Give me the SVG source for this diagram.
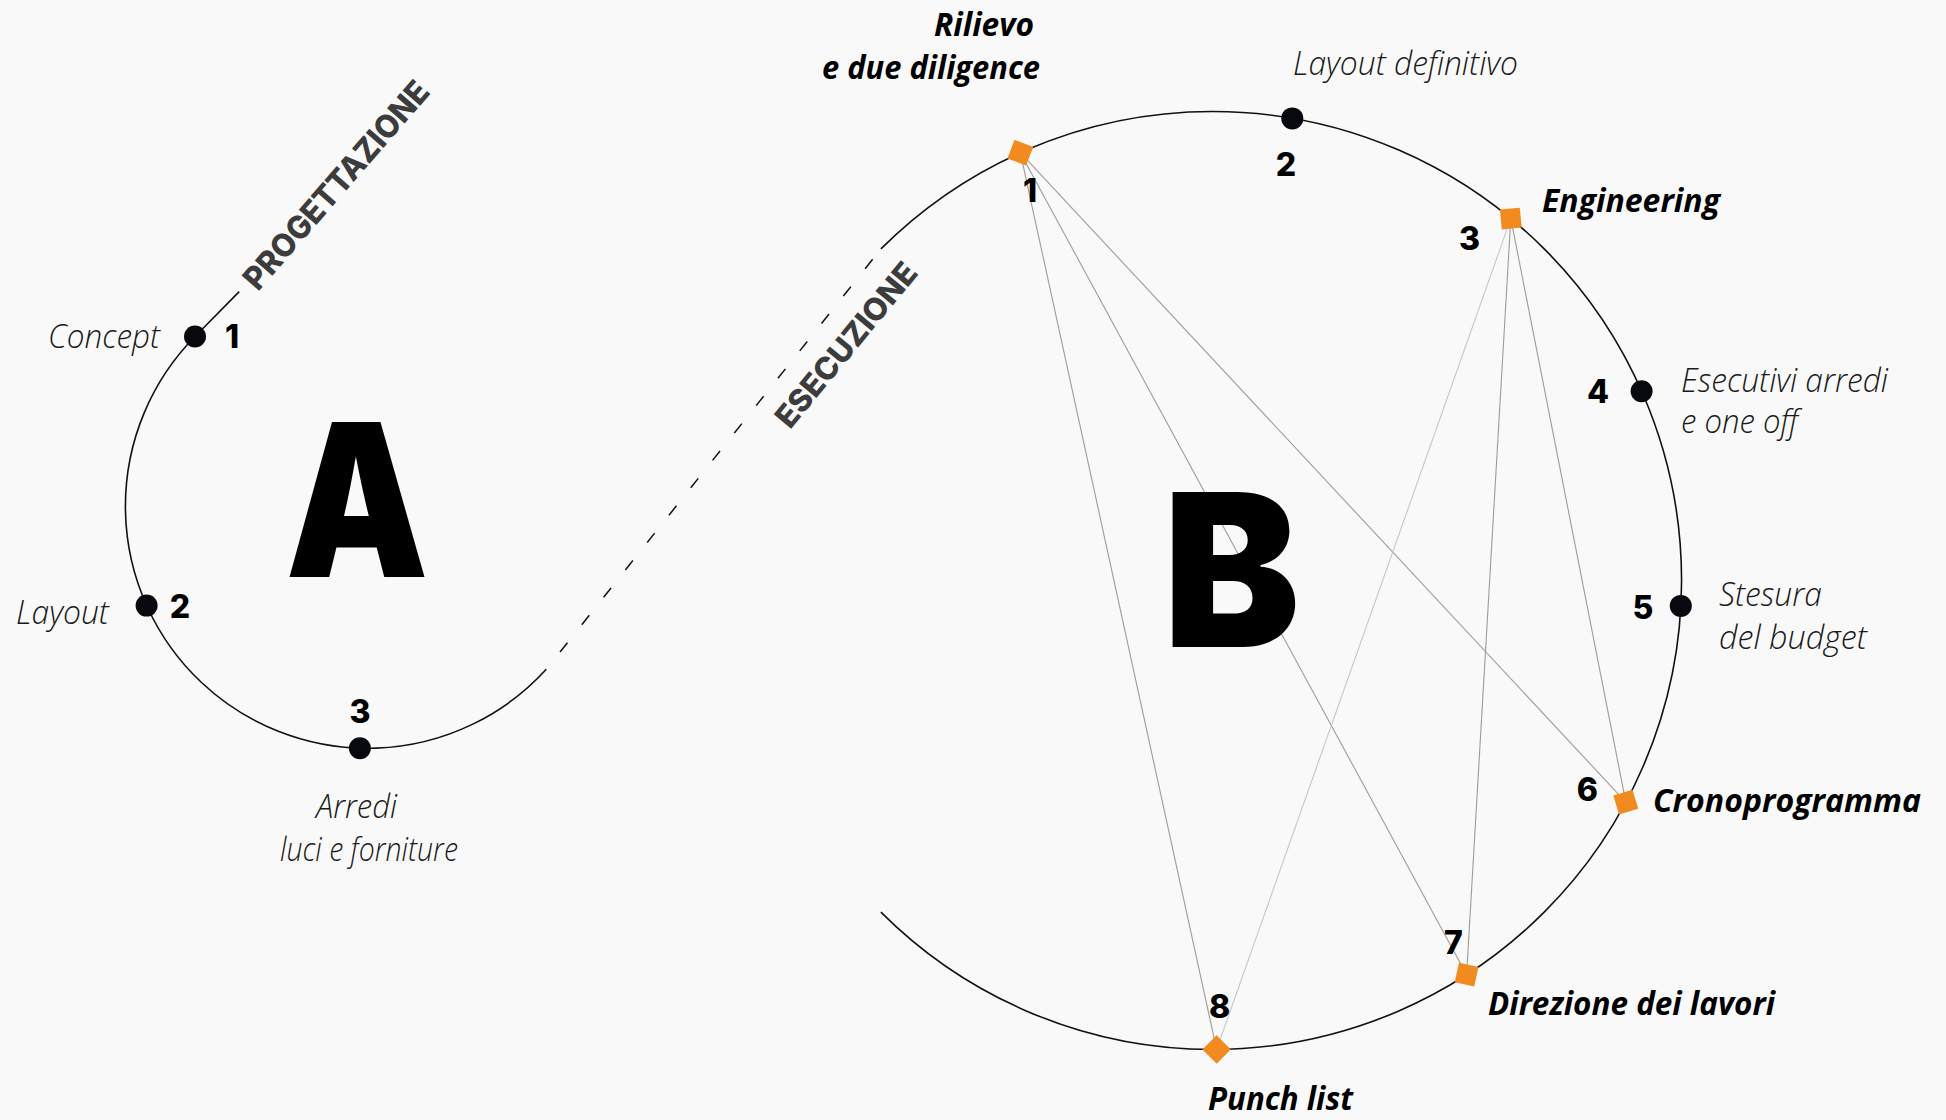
<svg xmlns="http://www.w3.org/2000/svg" width="1946" height="1120" viewBox="0 0 1946 1120">
<style>
.circ{fill:none;stroke:#111;stroke-width:1.6}
.chord{fill:none;stroke:#9c9c9c;stroke-width:1.1}
.chord.l{stroke:#c6c6c6}
.dot{fill:#08080f}
.sq{fill:#F28B1F}
.lbl{font-family:"Open Sans","Lato",sans-serif;font-style:italic;font-weight:300;font-size:33px;fill:#1a1a1a}
.blbl{font-family:"Open Sans","Lato",sans-serif;font-style:italic;font-weight:700;font-size:33px;fill:#000}
.num{font-family:"Inter","Lato",sans-serif;font-weight:800;font-size:32px;fill:#000;text-anchor:middle}
.big{font-family:"Inter","Lato",sans-serif;font-weight:900;font-size:213px;fill:#000}
.phase{font-family:"Inter","Lato",sans-serif;font-weight:800;fill:#3c3c3c}
</style>
<rect width="1946" height="1120" fill="#f9f9f9"/>

<g id="connectors">
  <path id="arc-a" class="circ" d="M 546.3 669.3 A 242 242 0 1 1 195 336.5 L 239.2 291.6"/>
  <line id="dash-link" x1="546.3" y1="669.3" x2="880.9" y2="248.9" stroke="#111" stroke-width="1.5" stroke-dasharray="12 23" stroke-dashoffset="13"/>
  <path id="arc-b" class="circ" d="M 880.9 912.1 A 469 469 0 1 0 880.9 248.9"/>
  <line class="chord" x1="1020.3" y1="152.7" x2="1216.6" y2="1049.5"/>
  <line class="chord" x1="1020.3" y1="152.7" x2="1466.6" y2="974.7"/>
  <line class="chord" x1="1020.3" y1="152.7" x2="1625.8" y2="802.1"/>
  <line class="chord l" x1="1510.8" y1="218.6" x2="1216.6" y2="1049.5"/>
  <line class="chord" x1="1510.8" y1="218.6" x2="1466.6" y2="974.7"/>
  <line class="chord" x1="1510.8" y1="218.6" x2="1625.8" y2="802.1"/>
</g>

<text class="big" x="285.5" y="577" textLength="143" lengthAdjust="spacingAndGlyphs">A</text>
<text class="big" x="1163" y="647" textLength="137" lengthAdjust="spacingAndGlyphs">B</text>

<text class="phase" font-size="32" transform="translate(258 292) rotate(-49)" textLength="264" lengthAdjust="spacingAndGlyphs">PROGETTAZIONE</text>
<text class="phase" font-size="31" transform="translate(790 430) rotate(-50.5)" textLength="203" lengthAdjust="spacingAndGlyphs">ESECUZIONE</text>

<g id="a1">
  <circle class="dot" cx="195" cy="336.5" r="11"/>
  <text class="num" x="232" y="348">1</text>
  <text class="lbl" x="48" y="348" textLength="112" lengthAdjust="spacingAndGlyphs">Concept</text>
</g>
<g id="a2">
  <circle class="dot" cx="146.6" cy="605.6" r="11"/>
  <text class="num" x="180" y="618">2</text>
  <text class="lbl" x="16" y="624" textLength="93" lengthAdjust="spacingAndGlyphs">Layout</text>
</g>
<g id="a3">
  <circle class="dot" cx="359.9" cy="748.3" r="11"/>
  <text class="num" x="360" y="723">3</text>
  <text class="lbl" x="316" y="818" textLength="81" lengthAdjust="spacingAndGlyphs">Arredi</text>
  <text class="lbl" x="280" y="861" textLength="178" lengthAdjust="spacingAndGlyphs">luci e forniture</text>
</g>

<g id="b1">
  <rect class="sq" x="-10" y="-10" width="20" height="20" transform="translate(1020.3 152.7) rotate(-69.2)"/>
  <text class="num" x="1030" y="202">1</text>
  <text class="blbl" x="934" y="36" textLength="100" lengthAdjust="spacingAndGlyphs">Rilievo</text>
  <text class="blbl" x="822" y="79" textLength="218" lengthAdjust="spacingAndGlyphs">e due diligence</text>
</g>
<g id="b2">
  <circle class="dot" cx="1292.3" cy="118.4" r="11"/>
  <text class="num" x="1286" y="176">2</text>
  <text class="lbl" x="1293" y="75" textLength="225" lengthAdjust="spacingAndGlyphs">Layout definitivo</text>
</g>
<g id="b3">
  <rect class="sq" x="-10" y="-10" width="20" height="20" transform="translate(1510.8 218.6) rotate(-5.5)"/>
  <text class="num" x="1469.5" y="250">3</text>
  <text class="blbl" x="1542" y="212" textLength="178" lengthAdjust="spacingAndGlyphs">Engineering</text>
</g>
<g id="b4">
  <circle class="dot" cx="1641.6" cy="391.3" r="11"/>
  <text class="num" x="1598" y="403">4</text>
  <text class="lbl" x="1681" y="392" textLength="207" lengthAdjust="spacingAndGlyphs">Esecutivi arredi</text>
  <text class="lbl" x="1681" y="433" textLength="117" lengthAdjust="spacingAndGlyphs">e one off</text>
</g>
<g id="b5">
  <circle class="dot" cx="1680.8" cy="605.9" r="11"/>
  <text class="num" x="1643" y="619">5</text>
  <text class="lbl" x="1719" y="606" textLength="103" lengthAdjust="spacingAndGlyphs">Stesura</text>
  <text class="lbl" x="1719" y="649" textLength="148" lengthAdjust="spacingAndGlyphs">del budget</text>
</g>
<g id="b6">
  <rect class="sq" x="-10" y="-10" width="20" height="20" transform="translate(1625.8 802.1) rotate(73.2)"/>
  <text class="num" x="1587.4" y="801">6</text>
  <text class="blbl" x="1653" y="812" textLength="268" lengthAdjust="spacingAndGlyphs">Cronoprogramma</text>
</g>
<g id="b7">
  <rect class="sq" x="-10" y="-10" width="20" height="20" transform="translate(1466.6 974.7) rotate(102.2)"/>
  <text class="num" x="1453.3" y="954">7</text>
  <text class="blbl" x="1488" y="1015" textLength="287" lengthAdjust="spacingAndGlyphs">Direzione dei lavori</text>
</g>
<g id="b8">
  <rect class="sq" x="-10" y="-10" width="20" height="20" transform="translate(1216.6 1049.5) rotate(134.5)"/>
  <text class="num" x="1219.7" y="1018">8</text>
  <text class="blbl" x="1208" y="1110" textLength="145" lengthAdjust="spacingAndGlyphs">Punch list</text>
</g>
</svg>
